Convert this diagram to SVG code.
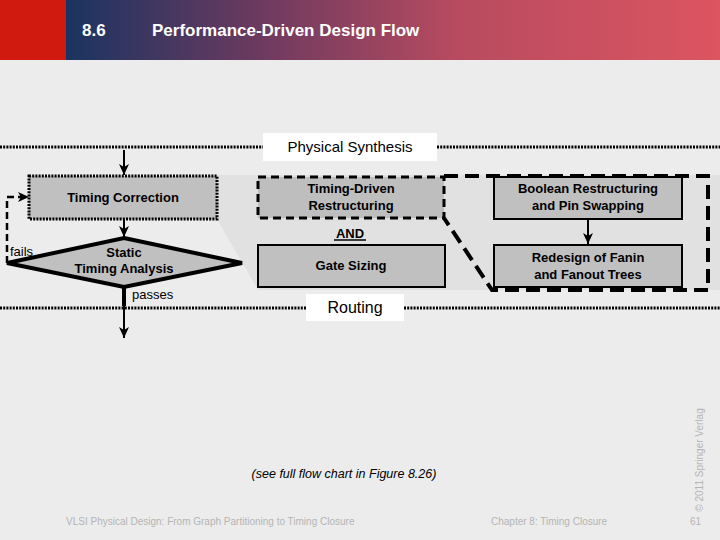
<svg xmlns="http://www.w3.org/2000/svg" width="720" height="540" viewBox="0 0 720 540">
<style>
.box{fill:#c0c0c0;stroke:#000;stroke-width:2}
.lbl{font-family:"Liberation Sans",Arial,sans-serif;font-size:13px;font-weight:bold;fill:#000;text-anchor:middle}
.plain{font-family:"Liberation Sans",Arial,sans-serif;fill:#000}
.foot{font-family:"Liberation Sans",Arial,sans-serif;font-size:10px;fill:#b4b4b4}
.dots{stroke:#000;stroke-width:3;stroke-dasharray:2 1.2;fill:none}
.conn{stroke:#000;stroke-width:2;fill:none}
.hdr{font-family:"Liberation Sans",Arial,sans-serif;font-size:17px;font-weight:bold;fill:#fff}
</style>
<defs>
<linearGradient id="hg" x1="0" y1="0" x2="1" y2="0">
<stop offset="0" stop-color="#1a3461"/>
<stop offset="0.3" stop-color="#6e3a5f"/>
<stop offset="0.6" stop-color="#b84b60"/>
<stop offset="1" stop-color="#dc5560"/>
</linearGradient>
<marker id="ah" markerUnits="userSpaceOnUse" markerWidth="12" markerHeight="12" viewBox="0 0 12 12" refX="11" refY="6" orient="auto">
<path d="M0,1 L11,6 L0,11 L3,6 Z" fill="#000"/>
</marker>
</defs>
<rect x="0" y="0" width="720" height="540" fill="#ececec"/>
<g id="header">
<rect x="0" y="0" width="66" height="60" fill="#d0190f"/>
<rect x="66" y="0" width="654" height="60" fill="url(#hg)"/>
<text class="hdr" x="82" y="36">8.6</text>
<text class="hdr" x="152" y="36">Performance-Driven Design Flow</text>
</g>
<g id="panel">
<polygon points="217,175 720,175 720,290 258,290 217,219" fill="#e1e1e1"/>
</g>
<g id="stage-lines">
<line class="dots" x1="0" y1="147" x2="263" y2="147"/>
<line class="dots" x1="437" y1="147" x2="720" y2="147"/>
<line class="dots" x1="0" y1="308" x2="306" y2="308"/>
<line class="dots" x1="404" y1="308" x2="720" y2="308"/>
</g>
<g id="physical-synthesis">
<rect x="263" y="133" width="174" height="28" fill="#fff"/>
<text class="plain" x="350" y="152" font-size="15" text-anchor="middle">Physical Synthesis</text>
</g>
<g id="routing">
<rect x="306" y="294" width="98" height="27" fill="#fff"/>
<text class="plain" x="355" y="313" font-size="16" text-anchor="middle">Routing</text>
</g>
<g id="timing-correction">
<rect x="29" y="176" width="188" height="43" fill="#c0c0c0" stroke="#000" stroke-width="3" stroke-dasharray="2 1.2"/>
<text class="lbl" x="123" y="202">Timing Correction</text>
</g>
<g id="sta">
<polygon points="124,238 242,263 124,287 7,263" fill="#c0c0c0" stroke="#000" stroke-width="4" stroke-linejoin="miter"/>
<text class="lbl" x="124" y="257">Static</text>
<text class="lbl" x="124" y="273">Timing Analysis</text>
</g>
<g id="timing-driven">
<rect x="258" y="177" width="186" height="41" fill="#bebebe" stroke="#000" stroke-width="3" stroke-dasharray="8 5"/>
<text class="lbl" x="351" y="193">Timing-Driven</text>
<text class="lbl" x="351" y="210">Restructuring</text>
</g>
<g id="and">
<text class="lbl" x="350" y="238">AND</text>
<line x1="334" y1="240" x2="366" y2="240" stroke="#000" stroke-width="1.5"/>
</g>
<g id="gate-sizing">
<rect class="box" x="258" y="245" width="187" height="42"/>
<text class="lbl" x="351" y="270">Gate Sizing</text>
</g>
<g id="boolean">
<rect class="box" x="494" y="177" width="188" height="42"/>
<text class="lbl" x="588" y="193">Boolean Restructuring</text>
<text class="lbl" x="588" y="210">and Pin Swapping</text>
</g>
<g id="redesign">
<rect class="box" x="494" y="245" width="188" height="42"/>
<text class="lbl" x="588" y="262">Redesign of Fanin</text>
<text class="lbl" x="588" y="279">and Fanout Trees</text>
</g>
<g id="connectors">
<path d="M444,176 L708,176 L708,290 L492,290 L444,218" fill="none" stroke="#000" stroke-width="4" stroke-dasharray="14 7"/>
<line class="conn" x1="124" y1="150" x2="124" y2="175" marker-end="url(#ah)"/>
<line class="conn" x1="124" y1="219" x2="124" y2="237" marker-end="url(#ah)"/>
<line x1="124" y1="286" x2="124" y2="306" stroke="#000" stroke-width="4"/>
<line class="conn" x1="124" y1="306" x2="124" y2="338" marker-end="url(#ah)"/>
<path d="M7,263 L7,197 L29,197" fill="none" stroke="#000" stroke-width="2.5" stroke-dasharray="7 4" marker-end="url(#ah)"/>
<line class="conn" x1="588" y1="219" x2="588" y2="244" marker-end="url(#ah)"/>
<text class="plain" x="10" y="256" font-size="13">fails</text>
<text class="plain" x="132" y="299" font-size="13">passes</text>
</g>
<g id="caption">
<text class="plain" x="344" y="478" font-size="12.5" font-style="italic" text-anchor="middle">(see full flow chart in Figure 8.26)</text>
</g>
<g id="footer">
<text class="foot" x="66" y="525">VLSI Physical Design: From Graph Partitioning to Timing Closure</text>
<text class="foot" x="491" y="525">Chapter 8: Timing Closure</text>
<text class="foot" x="690" y="525">61</text>
<text class="foot" font-size="7.5" x="0" y="0" text-anchor="middle" transform="translate(703,460) rotate(-90)">© 2011 Springer Verlag</text>
</g>
</svg>
